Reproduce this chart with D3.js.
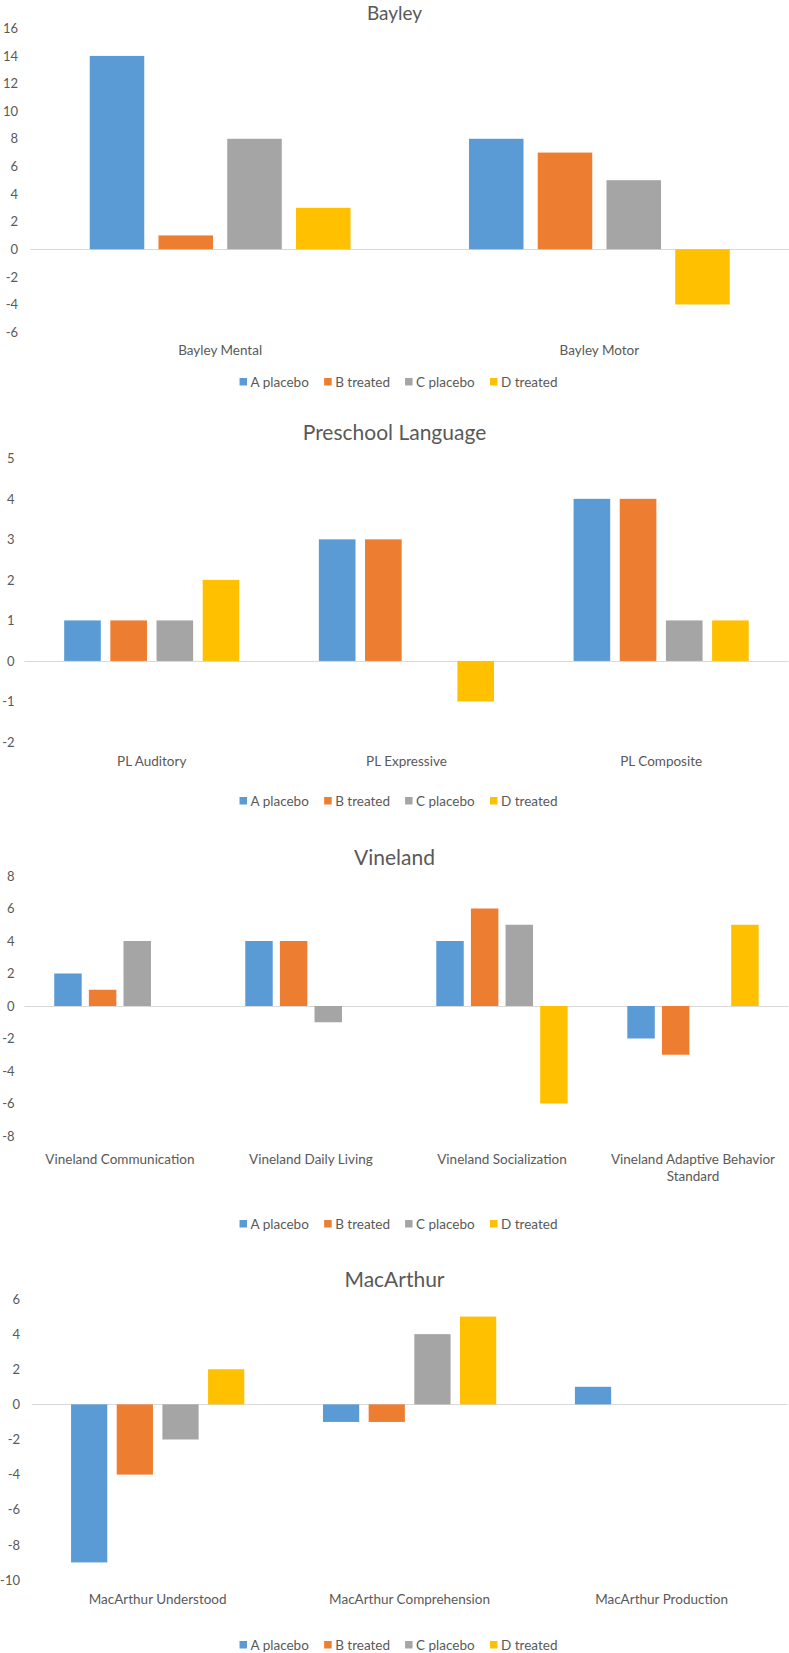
<!DOCTYPE html>
<html>
<head>
<meta charset="utf-8">
<script src="https://cdn.jsdelivr.net/npm/d3@7/dist/d3.min.js"></script>
<style>
  html, body { margin: 0; padding: 0; background: #fff; }
  svg { display: block; }
  text { font-family: Lato, "Open Sans", sans-serif; fill: #595959; }
</style>
</head>
<body>
<svg id="chart" width="789" height="1653"></svg>
<script>
// ---------- data ----------
const seriesNames = ["A placebo", "B treated", "C placebo", "D treated"];

const bayleyCategories = ["Bayley Mental", "Bayley Motor"];
const bayleyA = [14, 8];
const bayleyB = [1, 7];
const bayleyC = [8, 5];
const bayleyD = [3, -4];
const bayleyTicks = [-6, -4, -2, 0, 2, 4, 6, 8, 10, 12, 14, 16];

const plCategories = ["PL Auditory", "PL Expressive", "PL Composite"];
const plA = [1, 3, 4];
const plB = [1, 3, 4];
const plC = [1, 0, 1];
const plD = [2, -1, 1];
const plTicks = [-2, -1, 0, 1, 2, 3, 4, 5];

const vinelandCategories = ["Vineland Communication", "Vineland Daily Living", "Vineland Socialization", "Vineland Adaptive Behavior Standard"];
const vinelandA = [2, 4, 4, -2];
const vinelandB = [1, 4, 6, -3];
const vinelandC = [4, -1, 5, 0];
const vinelandD = [0, 0, -6, 5];
const vinelandTicks = [-8, -6, -4, -2, 0, 2, 4, 6, 8];

const macCategories = ["MacArthur Understood", "MacArthur Comprehension", "MacArthur Production"];
const macA = [-9, -1, 1];
const macB = [-4, -1, 0];
const macC = [-2, 4, 0];
const macD = [2, 5, 0];
const macTicks = [-10, -8, -6, -4, -2, 0, 2, 4, 6];

// ---------- styles / layout ----------
const colors = ["#5B9BD5", "#ED7D31", "#A5A5A5", "#FFC000"];

const panels = [
  { title: "Bayley", cats: bayleyCategories, vals: [bayleyA, bayleyB, bayleyC, bayleyD], ticks: bayleyTicks,
    titleY: 19.5, titleSize: 19, yTop: 28.3, yBot: 332.1, x0: 30.5, x1: 789, tickRight: 18, catY: 355, legendY: 382 },
  { title: "Preschool Language", cats: plCategories, vals: [plA, plB, plC, plD], ticks: plTicks,
    titleY: 440, titleSize: 21, yTop: 458.3, yBot: 742, x0: 24.4, x1: 788.5, tickRight: 14.5, catY: 765.5, legendY: 801 },
  { title: "Vineland", cats: vinelandCategories, vals: [vinelandA, vinelandB, vinelandC, vinelandD], ticks: vinelandTicks,
    titleY: 865, titleSize: 21, yTop: 876, yBot: 1136, x0: 24.4, x1: 788.5, tickRight: 14.5, catY: 1163.5, legendY: 1224 },
  { title: "MacArthur", cats: macCategories, vals: [macA, macB, macC, macD], ticks: macTicks,
    titleY: 1287, titleSize: 21, yTop: 1299, yBot: 1580, x0: 31.7, x1: 787.5, tickRight: 20, catY: 1603.5, legendY: 1645 }
];

const svg = d3.select("#chart");

function wrapLabel(text, maxW) {
  text.each(function() {
    const t = d3.select(this);
    const words = t.text().split(/\s+/);
    const x = t.attr("x"), y = t.attr("y");
    t.text(null);
    let line = [];
    let tspan = t.append("tspan").attr("x", x).attr("y", y);
    let lineNo = 0;
    for (const w of words) {
      line.push(w);
      tspan.text(line.join(" "));
      if (tspan.node().getComputedTextLength() > maxW && line.length > 1) {
        line.pop();
        tspan.text(line.join(" "));
        line = [w];
        lineNo++;
        tspan = t.append("tspan").attr("x", x).attr("y", +y + lineNo * 17).text(w);
      }
    }
  });
}

panels.forEach(p => {
  const g = svg.append("g");
  const yMin = d3.min(p.ticks), yMax = d3.max(p.ticks);
  const y = d3.scaleLinear().domain([yMin, yMax]).range([p.yBot, p.yTop]);
  const x = d3.scaleBand().domain(p.cats).range([p.x0, p.x1]).padding(0);
  const xs = d3.scaleBand().domain(seriesNames).range([0, x.bandwidth()])
    .paddingInner(0.207).paddingOuter(0.8615);

  // title
  g.append("text").attr("x", 394.5).attr("y", p.titleY)
    .attr("text-anchor", "middle").style("font-size", p.titleSize + "px").text(p.title);

  // y axis labels
  const yAxis = d3.axisLeft(y).tickValues(p.ticks).tickSize(0).tickPadding(0).tickFormat(d => String(d));
  const ya = g.append("g").attr("transform", `translate(${p.tickRight},0)`).call(yAxis);
  ya.select(".domain").remove();
  ya.selectAll("text").style("font-size", "13px").attr("fill", "#595959")
    .style("font-family", "Lato, sans-serif");

  // zero line
  g.append("line").attr("x1", p.x0).attr("x2", p.x1)
    .attr("y1", Math.round(y(0)) + 0.5).attr("y2", Math.round(y(0)) + 0.5)
    .attr("stroke", "#D9D9D9").attr("stroke-width", 1);

  // bars
  const rows = [];
  p.cats.forEach((c, i) => seriesNames.forEach((s, j) => rows.push({ c, s, j, v: p.vals[j][i] })));
  g.append("g").selectAll("rect").data(rows.filter(d => d.v !== 0)).join("rect")
    .attr("x", d => x(d.c) + xs(d.s))
    .attr("width", xs.bandwidth())
    .attr("y", d => y(Math.max(0, d.v)))
    .attr("height", d => Math.abs(y(d.v) - y(0)))
    .attr("fill", d => colors[d.j]);

  // category labels
  g.append("g").selectAll("text").data(p.cats).join("text")
    .attr("x", d => x(d) + x.bandwidth() / 2)
    .attr("y", p.catY)
    .attr("text-anchor", "middle")
    .style("font-size", "13.5px")
    .text(d => d)
    .call(wrapLabel, x.bandwidth() * 0.9);

  // legend
  const lg = g.append("g");
  const items = lg.selectAll("g").data(seriesNames).join("g");
  items.append("rect").attr("width", 7.5).attr("height", 7.5)
    .attr("y", p.legendY - 4).attr("fill", (d, i) => colors[i]);
  items.append("text").attr("x", 11).attr("y", p.legendY + 4.8)
    .style("font-size", "13.5px").text(d => d);
  let cx = 0;
  const offs = [];
  items.each(function() {
    offs.push(cx);
    cx += this.getBBox().width + 15;
  });
  const total = cx - 15;
  const start = 398.5 - total / 2;
  items.attr("transform", (d, i) => `translate(${start + offs[i]},0)`);
});
</script>
</body>
</html>
